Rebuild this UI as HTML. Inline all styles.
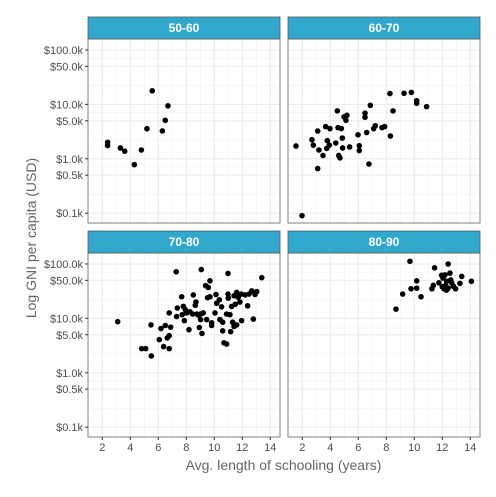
<!DOCTYPE html>
<html><head><meta charset="utf-8"><style>
body{margin:0;background:#fff}
svg{display:block;font-family:"Liberation Sans",sans-serif}
</style></head><body>
<svg id="c" width="496" height="497"></svg>
<script>
const panelLabels=["50-60","60-70","70-80","80-90"];
const xTicks=[2,4,6,8,10,12,14];
const yTicks=[100,5e4,1e4,5e3,1e3,500,100000];
const yTickVals=[1e5,5e4,1e4,5e3,1e3,500,100];
const yTickLabels=["$100.0k","$50.0k","$10.0k","$5.0k","$1.0k","$0.5k","$0.1k"];
const p1x=[2.38,2.38,3.29,3.6,4.29,4.79,5.19,5.57,6.29,6.5,6.69];
const p1y=[2000,1750,1580,1380,780,1450,3570,17800,3250,5100,9400];
const p2x=[1.55,1.98,2.69,2.79,3.1,3.1,3.19,3.48,3.67,3.74,3.79,3.93,3.98,4.39,4.5,4.55,4.6,4.69,4.79,4.86,4.88,4.98,5.12,5.19,5.38,5.98,6.07,6.07,6.48,6.48,6.6,6.76,6.86,7.1,7.21,7.69,7.88,8.26,8.29,8.48,9.27,9.79,10.17,10.17,10.88];
const p2y=[1720,90,2240,1780,660,3240,1450,1150,3900,1550,2150,1780,3580,1950,7600,3740,1150,1040,3600,2400,1580,5900,5100,6300,1650,2760,1740,1420,6900,5800,3040,800,9600,3580,4050,3740,3900,15800,2620,7600,16000,16600,11700,10500,9100];
const p3x=[3.1,4.81,5.1,5.5,5.48,6.07,6.19,6.38,6.5,6.64,6.78,6.78,6.88,6.78,7.28,7.31,7.36,7.67,7.71,7.79,7.86,7.93,8.02,8.19,8.26,8.45,8.5,8.64,8.69,8.76,8.86,8.93,9.02,9.02,9.07,9.12,9.21,9.38,9.45,9.52,9.57,9.69,9.69,9.81,9.81,10.05,10.12,10.17,10.36,10.4,10.52,10.6,10.6,10.69,10.88,10.98,10.98,11.0,11.12,11.17,11.24,11.31,11.41,11.41,11.5,11.6,11.71,11.83,11.93,11.95,12.38,12.48,12.67,12.91,13.03,12.79,13.39,12.2,11.6,10.88];
const p3y=[8700,2780,2780,2040,7600,4070,6500,3030,7400,4370,2780,12600,6900,4800,72000,10800,15500,25000,11700,16600,9100,14500,12600,6200,13200,12000,27000,17400,20000,12000,11500,6800,9500,12000,79000,5300,12600,40000,9500,24000,37000,49000,25000,8300,7400,12600,27500,19000,22000,9500,16300,8500,5900,3550,3380,67000,28000,23600,11700,5700,16600,8500,26000,7100,18200,7600,24500,20000,28000,9100,17000,28000,32000,27500,31000,9700,56000,27000,30000,12000];
const p4x=[9.69,8.69,9.17,9.77,10.17,10.17,10.48,11.26,11.36,11.45,11.76,11.95,12.05,12.12,12.19,12.24,12.31,12.42,12.42,12.55,12.6,12.67,12.79,12.95,13.26,13.39,14.08,12.3,12.0];
const p4y=[112000,14800,28000,35000,49000,36000,25000,35000,40500,85000,45000,62000,55000,35000,63000,40500,48000,100000,36000,68000,51000,45000,39000,35000,44000,59000,48000,33000,38000];
const seriesX=[p1x,p2x,p3x,p4x], seriesY=[p1y,p2y,p3y,p4y];

const NS="http://www.w3.org/2000/svg", svg=document.getElementById('c');
function mk(t,a,p){const e=document.createElementNS(NS,t);for(const k in a)e.setAttribute(k,a[k]);(p||svg).appendChild(e);return e;}
const panels=[{x:88,y:39},{x:288,y:39},{x:88,y:253},{x:288,y:253}];
const PW=192,PH=184,X0=0.979,XPU=14,YTOP=5.202,YPD=54.4;
const sx=(p,v)=>p.x+(v-X0)*XPU;
const sy=(p,v)=>p.y+(YTOP-Math.log10(v))*YPD;
const minorLog=[2.35,2.85,3.35,3.85,4.35,4.85];
panels.forEach((p,i)=>{
  const g=mk('g',{});
  
  
  mk('rect',{x:p.x,y:p.y,width:PW,height:PH,fill:'#fff'},g);
  for(let v=1;v<=15;v+=2){const X=sx(p,v);if(X>p.x&&X<p.x+PW)mk('line',{x1:X,x2:X,y1:p.y,y2:p.y+PH,stroke:'#f0f0f0','stroke-width':0.6},g);}
  minorLog.forEach(l=>{const Y=sy(p,Math.pow(10,l));mk('line',{x1:p.x,x2:p.x+PW,y1:Y,y2:Y,stroke:'#f0f0f0','stroke-width':0.6},g);});
  xTicks.forEach(v=>{const X=sx(p,v);mk('line',{x1:X,x2:X,y1:p.y,y2:p.y+PH,stroke:'#ebebeb','stroke-width':1.1},g);});
  yTickVals.forEach(v=>{const Y=sy(p,v);mk('line',{x1:p.x,x2:p.x+PW,y1:Y,y2:Y,stroke:'#ebebeb','stroke-width':1.1},g);});
  seriesX[i].forEach((xv,j)=>{
    const c=mk('circle',{cx:sx(p,xv),cy:sy(p,seriesY[i][j]),r:2.8,fill:'#000'},g);
    
    
  });
  mk('rect',{x:p.x,y:p.y,width:PW,height:PH,fill:'none',stroke:'#7f7f7f','stroke-width':1},g);
  const s=mk('rect',{x:p.x,y:p.y-22,width:PW,height:22,fill:'#31a8cb',stroke:'#5a5a5a','stroke-width':0.8},g);
  
  
  const t=mk('text',{x:p.x+PW/2,y:p.y-7,'text-anchor':'middle','font-size':12,'font-weight':'bold',fill:'#fff'},g);
  t.textContent=panelLabels[i];
  if(i%2==0){yTickVals.forEach((v,k)=>{const Y=sy(p,v);mk('line',{x1:p.x-3,x2:p.x,y1:Y,y2:Y,stroke:'#333'},g);
    const tt=mk('text',{x:p.x-5,y:Y+4,'text-anchor':'end','font-size':11,fill:'#4d4d4d'},g);tt.textContent=yTickLabels[k];});}
  if(i>=2){xTicks.forEach(v=>{const X=sx(p,v);mk('line',{x1:X,x2:X,y1:p.y+PH,y2:p.y+PH+3,stroke:'#333'},g);
    const tt=mk('text',{x:X,y:p.y+PH+14,'text-anchor':'middle','font-size':11,fill:'#4d4d4d'},g);tt.textContent=v;});}
});
const xt=mk('text',{x:283.5,y:470,'text-anchor':'middle','font-size':14,fill:'#666'});

xt.textContent='Avg. length of schooling (years)';
const yt=mk('text',{x:0,y:0,transform:'translate(36,238) rotate(-90)','text-anchor':'middle','font-size':14,fill:'#666'});

yt.textContent='Log GNI per capita (USD)';
</script>
</body></html>
